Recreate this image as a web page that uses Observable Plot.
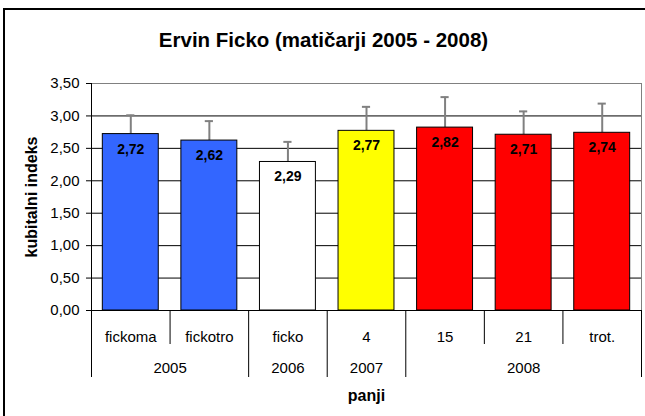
<!DOCTYPE html>
<html>
<head>
<meta charset="utf-8">
<script src="https://cdn.jsdelivr.net/npm/d3@7"></script>
<script src="https://cdn.jsdelivr.net/npm/@observablehq/plot@0.6"></script>
<style>
  html, body { margin: 0; padding: 0; background: #fff; overflow: hidden; }
  #wrap { position: relative; width: 645px; height: 416px; overflow: hidden; }
  #border { position: absolute; left: 3px; top: 8px; width: 700px; height: 500px; border: 2px solid #000; box-sizing: border-box; pointer-events: none; }
  #chart { position: absolute; left: 0; top: 0; }
</style>
</head>
<body>
<div id="wrap"><div id="chart"></div><div id="border"></div></div>
<script>
const title = "Ervin Ficko (matičarji 2005 - 2008)";
const yTitle = "kubitalni indeks";
const xTitle = "panji";
const categories = ["fickoma", "fickotro", "ficko", "4", "15", "21", "trot."];
const years = ["2005", "2005", "2006", "2007", "2008", "2008", "2008"];
const values = [2.72, 2.62, 2.29, 2.77, 2.82, 2.71, 2.74];
const errors = [0.29, 0.30, 0.31, 0.37, 0.47, 0.36, 0.45];
const colors = ["#3366FF", "#3366FF", "#FFFFFF", "#FFFF00", "#FF0000", "#FF0000", "#FF0000"];
const yTicks = [0, 0.5, 1, 1.5, 2, 2.5, 3, 3.5];

const fmt = v => v.toFixed(2).replace(".", ",");
const data = categories.map((c, i) => ({i, c, year: years[i], value: values[i], err: errors[i], color: colors[i]}));

// year groups (center = mean index)
const yearGroups = d3.groups(data, d => d.year).map(([year, ds]) => ({year, x: d3.mean(ds, d => d.i)}));
// separators between categories
const bounds = [];
for (let i = -1; i < categories.length; i++) {
  const long = i < 0 || i === categories.length - 1 || years[i] !== years[i + 1];
  bounds.push({x: i + 0.5, long});
}
const half = 0.356, cap = 0.052;
const font = "'Liberation Sans', Arial, sans-serif";

const chart = Plot.plot({
  width: 645,
  height: 416,
  marginLeft: 91,
  marginRight: 4,
  marginTop: 83,
  marginBottom: 106,
  style: {fontFamily: font, fontSize: "15px", color: "#000", background: "transparent"},
  x: {domain: [-0.5, categories.length - 0.5], axis: null},
  y: {domain: [0, 3.5], ticks: yTicks, tickFormat: fmt, tickSize: 5, tickPadding: 7, label: null},
  marks: [
    Plot.ruleY(yTicks.filter(t => t > 0 && t < 3.5), {stroke: "#000", strokeWidth: 1}),
    Plot.frame({stroke: "#808080", strokeWidth: 1}),
    Plot.ruleX([-0.5], {stroke: "#000"}),
    Plot.ruleY([0], {stroke: "#000"}),
    Plot.ruleX(data, {x: "i", y1: "value", y2: d => d.value + d.err, stroke: "#808080", strokeWidth: 2}),
    Plot.ruleY(data, {y: d => d.value + d.err, x1: d => d.i - cap, x2: d => d.i + cap, stroke: "#808080", strokeWidth: 2}),
    Plot.rect(data, {x1: d => d.i - half, x2: d => d.i + half, y1: 0, y2: "value", fill: "color", stroke: "#000", strokeWidth: 1}),
    Plot.text(data, {x: "i", y: "value", text: d => fmt(d.value), dy: 15, fontSize: 14, fontWeight: "bold", fill: "#000"}),
    // category table below axis
    Plot.ruleX(bounds.filter(b => !b.long), {x: "x", y1: 0, y2: 0, insetBottom: -34, stroke: "#000"}),
    Plot.ruleX(bounds.filter(b => b.long), {x: "x", y1: 0, y2: 0, insetBottom: -67, stroke: "#000"}),
    Plot.text(data, {x: "i", frameAnchor: "bottom", lineAnchor: "middle", text: "c", dy: 27, fontSize: 15, fill: "#000"}),
    Plot.text(yearGroups, {x: "x", frameAnchor: "bottom", lineAnchor: "middle", text: "year", dy: 58, fontSize: 15, fill: "#000"}),
    Plot.text([xTitle], {frameAnchor: "bottom", lineAnchor: "middle", text: d => d, dy: 85, fontSize: 16, fontWeight: "bold", fill: "#000"}),
    Plot.text([yTitle], {frameAnchor: "left", textAnchor: "middle", lineAnchor: "middle", text: d => d, rotate: -90, dx: -60, fontSize: 16, fontWeight: "bold", fill: "#000"}),
    Plot.text([title], {frameAnchor: "top", lineAnchor: "middle", text: d => d, dx: -43, dy: -43, fontSize: 20.5, fontWeight: "bold", fill: "#000"})
  ]
});
document.getElementById("chart").appendChild(chart);
</script>
</body>
</html>
